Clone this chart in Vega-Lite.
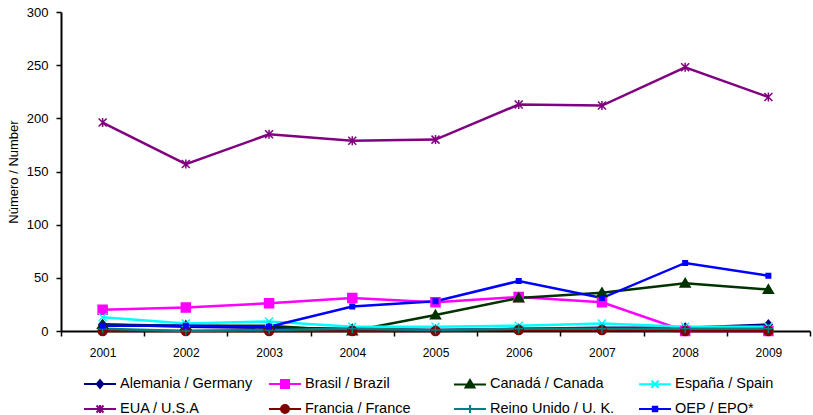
{
  "$schema": "https://vega.github.io/schema/vega-lite/v6.json",
  "width": 749,
  "height": 319,
  "autosize": {"type": "none"},
  "padding": {"left": 61, "top": 12, "right": 3, "bottom": 84},
  "background": "white",
  "config": {
    "font": "Liberation Sans",
    "view": {"stroke": null},
    "axis": {"labelColor": "black", "titleColor": "black", "grid": false}
  },
  "data": {
    "values": [
      {"Año": "2001", "Serie": "Alemania / Germany", "Valor": 6},
      {"Año": "2002", "Serie": "Alemania / Germany", "Valor": 4},
      {"Año": "2003", "Serie": "Alemania / Germany", "Valor": 3},
      {"Año": "2004", "Serie": "Alemania / Germany", "Valor": 2},
      {"Año": "2005", "Serie": "Alemania / Germany", "Valor": 1},
      {"Año": "2006", "Serie": "Alemania / Germany", "Valor": 2},
      {"Año": "2007", "Serie": "Alemania / Germany", "Valor": 3},
      {"Año": "2008", "Serie": "Alemania / Germany", "Valor": 3},
      {"Año": "2009", "Serie": "Alemania / Germany", "Valor": 6},
      {"Año": "2001", "Serie": "Brasil / Brazil", "Valor": 20},
      {"Año": "2002", "Serie": "Brasil / Brazil", "Valor": 22},
      {"Año": "2003", "Serie": "Brasil / Brazil", "Valor": 26},
      {"Año": "2004", "Serie": "Brasil / Brazil", "Valor": 31},
      {"Año": "2005", "Serie": "Brasil / Brazil", "Valor": 27},
      {"Año": "2006", "Serie": "Brasil / Brazil", "Valor": 32},
      {"Año": "2007", "Serie": "Brasil / Brazil", "Valor": 27},
      {"Año": "2008", "Serie": "Brasil / Brazil", "Valor": 0},
      {"Año": "2009", "Serie": "Brasil / Brazil", "Valor": 0},
      {"Año": "2001", "Serie": "Canadá / Canada", "Valor": 6},
      {"Año": "2002", "Serie": "Canadá / Canada", "Valor": 5},
      {"Año": "2003", "Serie": "Canadá / Canada", "Valor": 5},
      {"Año": "2004", "Serie": "Canadá / Canada", "Valor": 0},
      {"Año": "2005", "Serie": "Canadá / Canada", "Valor": 15},
      {"Año": "2006", "Serie": "Canadá / Canada", "Valor": 31},
      {"Año": "2007", "Serie": "Canadá / Canada", "Valor": 36},
      {"Año": "2008", "Serie": "Canadá / Canada", "Valor": 45},
      {"Año": "2009", "Serie": "Canadá / Canada", "Valor": 39},
      {"Año": "2001", "Serie": "España / Spain", "Valor": 13},
      {"Año": "2002", "Serie": "España / Spain", "Valor": 7},
      {"Año": "2003", "Serie": "España / Spain", "Valor": 9},
      {"Año": "2004", "Serie": "España / Spain", "Valor": 4},
      {"Año": "2005", "Serie": "España / Spain", "Valor": 4},
      {"Año": "2006", "Serie": "España / Spain", "Valor": 5},
      {"Año": "2007", "Serie": "España / Spain", "Valor": 7},
      {"Año": "2008", "Serie": "España / Spain", "Valor": 4},
      {"Año": "2009", "Serie": "España / Spain", "Valor": 4},
      {"Año": "2001", "Serie": "EUA / U.S.A", "Valor": 196},
      {"Año": "2002", "Serie": "EUA / U.S.A", "Valor": 157},
      {"Año": "2003", "Serie": "EUA / U.S.A", "Valor": 185},
      {"Año": "2004", "Serie": "EUA / U.S.A", "Valor": 179},
      {"Año": "2005", "Serie": "EUA / U.S.A", "Valor": 180},
      {"Año": "2006", "Serie": "EUA / U.S.A", "Valor": 213},
      {"Año": "2007", "Serie": "EUA / U.S.A", "Valor": 212},
      {"Año": "2008", "Serie": "EUA / U.S.A", "Valor": 248},
      {"Año": "2009", "Serie": "EUA / U.S.A", "Valor": 220},
      {"Año": "2001", "Serie": "Francia / France", "Valor": 0},
      {"Año": "2002", "Serie": "Francia / France", "Valor": 0},
      {"Año": "2003", "Serie": "Francia / France", "Valor": 0},
      {"Año": "2004", "Serie": "Francia / France", "Valor": 0},
      {"Año": "2005", "Serie": "Francia / France", "Valor": 0},
      {"Año": "2006", "Serie": "Francia / France", "Valor": 1},
      {"Año": "2007", "Serie": "Francia / France", "Valor": 1},
      {"Año": "2008", "Serie": "Francia / France", "Valor": 0},
      {"Año": "2009", "Serie": "Francia / France", "Valor": 0},
      {"Año": "2001", "Serie": "Reino Unido / U. K.", "Valor": 2},
      {"Año": "2002", "Serie": "Reino Unido / U. K.", "Valor": 0},
      {"Año": "2003", "Serie": "Reino Unido / U. K.", "Valor": 1},
      {"Año": "2004", "Serie": "Reino Unido / U. K.", "Valor": 2},
      {"Año": "2005", "Serie": "Reino Unido / U. K.", "Valor": 1},
      {"Año": "2006", "Serie": "Reino Unido / U. K.", "Valor": 2},
      {"Año": "2007", "Serie": "Reino Unido / U. K.", "Valor": 2},
      {"Año": "2008", "Serie": "Reino Unido / U. K.", "Valor": 2},
      {"Año": "2009", "Serie": "Reino Unido / U. K.", "Valor": 2},
      {"Año": "2001", "Serie": "OEP / EPO*", "Valor": 5},
      {"Año": "2002", "Serie": "OEP / EPO*", "Valor": 5},
      {"Año": "2003", "Serie": "OEP / EPO*", "Valor": 4},
      {"Año": "2004", "Serie": "OEP / EPO*", "Valor": 23},
      {"Año": "2005", "Serie": "OEP / EPO*", "Valor": 28},
      {"Año": "2006", "Serie": "OEP / EPO*", "Valor": 47},
      {"Año": "2007", "Serie": "OEP / EPO*", "Valor": 31},
      {"Año": "2008", "Serie": "OEP / EPO*", "Valor": 64},
      {"Año": "2009", "Serie": "OEP / EPO*", "Valor": 52}
    ]
  },
  "encoding": {
    "x": {
      "field": "Año",
      "type": "ordinal",
      "scale": {"type": "band", "paddingInner": 0, "paddingOuter": 0},
      "axis": {
        "title": null,
        "labelAngle": 0,
        "tickBand": "extent",
        "domainColor": "black",
        "domainWidth": 2,
        "tickColor": "black",
        "tickSize": 5,
        "tickWidth": 1.5,
        "labelFontSize": 12,
        "labelPadding": 11
      }
    },
    "y": {
      "field": "Valor",
      "type": "quantitative",
      "scale": {"domain": [0, 300], "nice": false, "zero": true},
      "axis": {
        "title": "Número / Number",
        "titleFontSize": 13,
        "titleFontWeight": "normal",
        "titlePadding": 6,
        "values": [0, 50, 100, 150, 200, 250, 300],
        "domainColor": "black",
        "domainWidth": 2,
        "tickColor": "black",
        "tickSize": 5,
        "tickWidth": 1.5,
        "labelFontSize": 13,
        "labelPadding": 8
      }
    },
    "color": {
      "field": "Serie",
      "type": "nominal",
      "scale": {
        "domain": ["Alemania / Germany", "Brasil / Brazil", "Canadá / Canada", "España / Spain", "EUA / U.S.A", "Francia / France", "Reino Unido / U. K.", "OEP / EPO*"],
        "range": ["#000080", "#FF00FF", "#003300", "#00FFFF", "#800080", "#800000", "#008080", "#0000FF"]
      },
      "legend": {
        "title": null,
        "orient": "none",
        "legendX": 22,
        "legendY": 355,
        "direction": "horizontal",
        "columns": 4,
        "gridAlign": "all",
        "columnPadding": 12,
        "rowPadding": -9,
        "symbolSize": 1024,
        "symbolStrokeWidth": 2,
        "labelFontSize": 14.5,
        "labelOffset": 3,
        "labelColor": "black",
        "labelLimit": 300,
        "encode": {
          "symbols": {
            "update": {
              "shape": {"signal": "{'Alemania / Germany': 'M-1,0H1M0,-0.25L0.2,0L0,0.25L-0.2,0Z', 'Brasil / Brazil': 'M-1,0H1M-0.25,-0.25H0.25V0.25H-0.25Z', 'Canadá / Canada': 'M-1,0H1M0,-0.28L0.28,0.2H-0.28Z', 'España / Spain': 'M-1,0H1M-0.22,-0.22L0.22,0.22M-0.22,0.22L0.22,-0.22', 'EUA / U.S.A': 'M-1,0H1M-0.22,-0.22L0.22,0.22M-0.22,0.22L0.22,-0.22M0,-0.25V0.25', 'Francia / France': 'M-1,0H1M-0.25,0A0.25,0.25 0 1,0 0.25,0A0.25,0.25 0 1,0 -0.25,0Z', 'Reino Unido / U. K.': 'M-1,0H1M0,-0.25V0.25', 'OEP / EPO*': 'M-1,0H1M-0.14,-0.14H0.14V0.14H-0.14Z'}[datum.value]"},
              "fill": {"scale": "color", "field": "value"},
              "stroke": {"scale": "color", "field": "value"},
              "strokeWidth": {"value": 2},
              "opacity": {"value": 1}
            }
          }
        }
      }
    }
  },
  "layer": [
    {
      "mark": {"type": "line", "strokeWidth": 2.5},
      "encoding": {"detail": {"field": "Serie"}}
    },
    {
      "mark": {"type": "point", "filled": true, "size": 100, "strokeWidth": 1.5, "opacity": 1},
      "encoding": {
        "stroke": {
          "field": "Serie",
          "type": "nominal",
          "scale": {
            "domain": ["OEP / EPO*", "Reino Unido / U. K.", "Francia / France", "EUA / U.S.A", "España / Spain", "Canadá / Canada", "Brasil / Brazil", "Alemania / Germany"],
            "range": ["#0000FF", "#008080", "#800000", "#800080", "#00FFFF", "#003300", "#FF00FF", "#000080"]
          },
          "legend": null
        },
        "shape": {
          "field": "Serie",
          "type": "nominal",
          "scale": {
            "domain": ["Reino Unido / U. K.", "OEP / EPO*", "Francia / France", "EUA / U.S.A", "España / Spain", "Canadá / Canada", "Brasil / Brazil", "Alemania / Germany"],
            "range": ["M-0.9,0H0.9M0,-0.9V0.9", "M-0.45,-0.45H0.45V0.45H-0.45Z", "M-0.9,0A0.9,0.9 0 1,0 0.9,0A0.9,0.9 0 1,0 -0.9,0Z", "M-0.8,-0.8L0.8,0.8M-0.8,0.8L0.8,-0.8M0,-0.9V0.9", "M-0.8,-0.8L0.8,0.8M-0.8,0.8L0.8,-0.8", "M0,-0.95L1,0.75H-1Z", "M-0.9,-0.9H0.9V0.9H-0.9Z", "M0,-0.9L0.75,0L0,0.9L-0.75,0Z"]
          },
          "legend": null
        }
      }
    }
  ]
}
